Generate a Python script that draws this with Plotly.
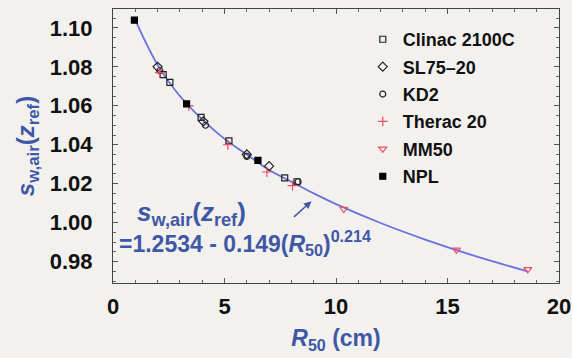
import plotly.graph_objects as go

# R50 (cm) and s_w,air(z_ref)
clinac_r50 = [2.25, 2.55, 3.95, 5.2, 7.7, 8.25]
clinac_s = [1.076, 1.072, 1.054, 1.042, 1.023, 1.021]

sl75_r50 = [2.0, 4.05, 6.0, 7.0]
sl75_s = [1.080, 1.052, 1.035, 1.029]

kd2_r50 = [2.1, 4.15, 6.0, 8.3]
kd2_s = [1.078, 1.050, 1.034, 1.021]

therac_r50 = [2.1, 3.4, 5.15, 6.9, 8.05]
therac_s = [1.077, 1.060, 1.040, 1.026, 1.019]

mm50_r50 = [10.35, 15.4, 18.6]
mm50_s = [1.007, 0.986, 0.976]

npl_r50 = [0.96, 3.3, 6.5]
npl_s = [1.104, 1.061, 1.032]

fit_r50 = [0.96, 2, 3, 4, 5, 6, 7, 8, 9, 10, 12, 14, 16, 18.6]
fit_s = [1.105, 1.081, 1.065, 1.053, 1.043, 1.035, 1.027, 1.021, 1.015,
         1.0095, 0.9998, 0.9913, 0.9837, 0.9749]

BLUE = "#3f58a6"
RED = "#ee4a62"
BG = "#f3f1ee"
FONT = "Liberation Sans, Arial, sans-serif"

fig = go.Figure()

fig.add_trace(go.Scatter(x=fit_r50, y=fit_s, mode="lines",
                         line=dict(color="#6b6fe0", width=1.8),
                         line_shape="spline", showlegend=False))

series = [
    ("Clinac 2100C", clinac_r50, clinac_s, "square-open", "#222222", 6),
    ("SL75\u201320", sl75_r50, sl75_s, "diamond-open", "#222222", 7),
    ("KD2", kd2_r50, kd2_s, "circle-open", "#222222", 6),
    ("Therac 20", therac_r50, therac_s, "cross-thin-open", RED, 7),
    ("MM50", mm50_r50, mm50_s, "triangle-down-open", RED, 7),
    ("NPL", npl_r50, npl_s, "square", "#000000", 6),
]
for name, xs, ys, sym, col, size in series:
    fig.add_trace(go.Scatter(
        x=xs, y=ys, mode="markers", name=f"<b>{name}</b>", legendgroup=name,
        marker=dict(symbol=sym, color=col, size=size,
                    line=dict(color=col, width=1.2)),
    ))

fig.add_annotation(x=1.0, y=1.0045, xref="x", yref="y", xanchor="left",
                   text="<b><i>s</i><sub>w,air</sub>(<i>z</i><sub>ref</sub>)</b>",
                   showarrow=False, font=dict(size=26, color=BLUE, family=FONT))
fig.add_annotation(x=0.2, y=0.9895, xref="x", yref="y", xanchor="left",
                   text="<b>=1.2534 - 0.149(<i>R</i><sub>50</sub>)<sup>0.214</sup></b>",
                   showarrow=False, font=dict(size=23, color=BLUE, family=FONT))
fig.add_annotation(x=8.9, y=1.011, xref="x", yref="y", text="",
                   showarrow=True, arrowhead=2, arrowsize=1, arrowwidth=1.5,
                   arrowcolor=BLUE, ax=-19, ay=17)

axis_common = dict(showline=True, linecolor="#444444", linewidth=1.2,
                   mirror="allticks", ticks="inside", ticklen=5,
                   tickcolor="#555555", showgrid=False, zeroline=False,
                   automargin=False,
                   tickfont=dict(size=22, color="#111111", family=FONT, weight="bold"))

fig.update_xaxes(range=[0, 20], dtick=5, tickformat="d", ticklabelstandoff=3,
                 minor=dict(dtick=1, ticks="inside", ticklen=3, tickcolor="#666666"),
                 title=dict(text="<b><i>R</i><sub>50</sub> (cm)</b>",
                            font=dict(size=23, color=BLUE, family=FONT), standoff=12),
                 **axis_common)
fig.update_yaxes(range=[0.969, 1.1097], dtick=0.02, tickformat=".2f",
                 ticklabelstandoff=15,
                 minor=dict(dtick=0.005, ticks="inside", ticklen=3, tickcolor="#666666"),
                 title=dict(text="<b><i>s</i><sub>w,air</sub>(<i>z</i><sub>ref</sub>)</b>",
                            font=dict(size=24, color=BLUE, family=FONT), standoff=8),
                 **axis_common)

fig.update_layout(
    width=572, height=358,
    margin=dict(l=113, r=13, t=9, b=75),
    paper_bgcolor=BG, plot_bgcolor=BG,
    font=dict(family=FONT),
    legend=dict(x=0.56, y=0.956, xanchor="left", yanchor="top",
                bgcolor="rgba(0,0,0,0)", itemwidth=30,
                font=dict(size=18, color="#111111", family=FONT),
                tracegroupgap=1),
)

# drop the default page margin so the figure fills the window exactly
fig.write_html(
    "out.html",
    config={"displayModeBar": False},
    post_script="document.body.style.margin='0';document.body.style.overflow='hidden';",
)
